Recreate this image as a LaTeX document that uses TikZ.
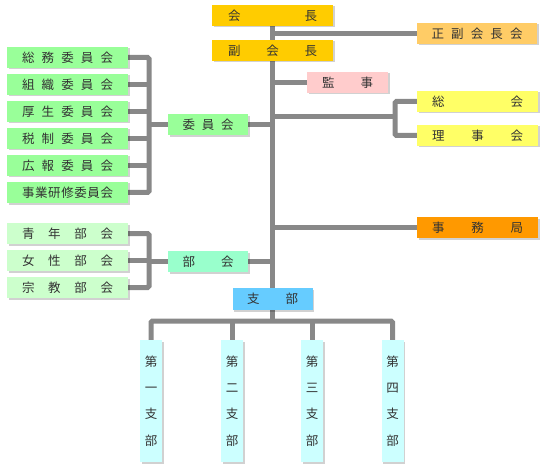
\documentclass[tikz,border=0pt]{standalone}
\usepackage{fontspec}
\newfontfamily\jp{Noto Sans CJK JP}
\usetikzlibrary{shadows,backgrounds}
\definecolor{cGold}{HTML}{FFCC00}
\definecolor{cLtOrange}{HTML}{FFCC66}
\definecolor{cPink}{HTML}{FFCCCC}
\definecolor{cYellow}{HTML}{FFFF66}
\definecolor{cOrange}{HTML}{FF9900}
\definecolor{cGreen}{HTML}{99FF99}
\definecolor{cMint}{HTML}{99FFCC}
\definecolor{cPale}{HTML}{CCFFCC}
\definecolor{cBlue}{HTML}{66CCFF}
\definecolor{cCyan}{HTML}{CCFFFF}
\definecolor{cLine}{HTML}{888888}
\definecolor{cText}{HTML}{333333}
\newcommand{\spr}[2]{\makebox[#1pt]{#2}}
\tikzset{
  box/.style={inner sep=0pt, minimum height=21pt, text=cText,
    font=\jp\fontsize{12.5}{14}\selectfont,
    drop shadow={shadow xshift=1.5pt,shadow yshift=-1.5pt,fill=black,opacity=0.18}},
  vbox/.style={box, minimum width=22pt, minimum height=122pt, align=center,
    font=\jp\fontsize{12.5}{26.3}\selectfont},
  conn/.style={draw=cLine, line width=5pt, rounded corners=1.5pt}
}
\begin{document}
\begin{tikzpicture}[x=1pt,y=-1pt]
\useasboundingbox (0,0) rectangle (545,470);
% top
\node[box,fill=cGold,minimum width=121pt] (kaicho) at (272.5,15.5) {\spr{89}{会\hfill 長}};
\node[box,fill=cGold,minimum width=121pt] (fuku) at (272.5,50.5) {\spr{89}{副\hfill 会\hfill 長}};
\node[box,fill=cLtOrange,minimum width=120pt] (seifuku) at (477,33.5) {\spr{91}{正\hfill 副\hfill 会\hfill 長\hfill 会}};
\node[box,fill=cPink,minimum width=81pt] (kanji) at (347.5,82.5) {\spr{51}{監\hfill 事}};
\node[box,fill=cYellow,minimum width=121pt] (sokai) at (477.5,101.5) {\spr{91}{総\hfill 会}};
\node[box,fill=cYellow,minimum width=121pt] (riji) at (477.5,135.5) {\spr{91}{理\hfill 事\hfill 会}};
\node[box,fill=cOrange,minimum width=121pt] (jimu) at (477.5,227.5) {\spr{91}{事\hfill 務\hfill 局}};
% committees
\node[box,fill=cGreen,minimum width=121pt] (c1) at (67.5,57.5) {\spr{91}{総\hfill 務\hfill 委\hfill 員\hfill 会}};
\node[box,fill=cGreen,minimum width=121pt] (c2) at (67.5,84.5) {\spr{91}{組\hfill 織\hfill 委\hfill 員\hfill 会}};
\node[box,fill=cGreen,minimum width=121pt] (c3) at (67.5,111.5) {\spr{91}{厚\hfill 生\hfill 委\hfill 員\hfill 会}};
\node[box,fill=cGreen,minimum width=121pt] (c4) at (67.5,138.5) {\spr{91}{税\hfill 制\hfill 委\hfill 員\hfill 会}};
\node[box,fill=cGreen,minimum width=121pt] (c5) at (67.5,165.5) {\spr{91}{広\hfill 報\hfill 委\hfill 員\hfill 会}};
\node[box,fill=cGreen,minimum width=121pt] (c6) at (67.5,192.5) {\spr{91}{事\hfill 業\hfill 研\hfill 修\hfill 委\hfill 員\hfill 会}};
\node[box,fill=cGreen,minimum width=80pt] (iin) at (208,125) {\spr{51}{委\hfill 員\hfill 会}};
% bukai
\node[box,fill=cPale,minimum width=121pt] (b1) at (67.5,233.5) {\spr{91}{青\hfill 年\hfill 部\hfill 会}};
\node[box,fill=cPale,minimum width=121pt] (b2) at (67.5,260.5) {\spr{91}{女\hfill 性\hfill 部\hfill 会}};
\node[box,fill=cPale,minimum width=121pt] (b3) at (67.5,287.5) {\spr{91}{宗\hfill 教\hfill 部\hfill 会}};
\node[box,fill=cMint,minimum width=80pt] (bukai) at (208,261.5) {\spr{51}{部\hfill 会}};
% shibu
\node[box,fill=cBlue,minimum width=80pt,minimum height=22pt] (shibu) at (272.5,299) {\spr{51}{支\hfill 部}};
\node[vbox,fill=cCyan] (s1) at (151,401) {第\\一\\支\\部};
\node[vbox,fill=cCyan] (s2) at (232,401) {第\\二\\支\\部};
\node[vbox,fill=cCyan] (s3) at (312,401) {第\\三\\支\\部};
\node[vbox,fill=cCyan] (s4) at (392.5,401) {第\\四\\支\\部};
\coordinate (jb) at (395,117);
\coordinate (ib) at (149,125);
\coordinate (bb) at (149,261.5);
\coordinate (sb) at (272.5,321);
\begin{scope}[on background layer]
\fill[white] (0,0) rectangle (545,470);
\draw[conn] (kaicho.south) -- (shibu.north);
\draw[conn] (seifuku.west) -- (seifuku.west -| kaicho.south);
\draw[conn] (kanji.west) -- (kanji.west -| kaicho.south);
\draw[conn] (jb) -- (jb -| kaicho.south);
\draw[conn] (sokai.west) -| (jb) |- (riji.west);
\draw[conn] (jimu.west) -- (jimu.west -| kaicho.south);
\draw[conn] (iin.east) -- (iin.east -| kaicho.south);
\draw[conn] (ib) -- (iin.west);
\draw[conn] (c1.east) -| (ib) |- (c6.east);
\foreach \n in {c2,c3,c4,c5} \draw[conn] (\n.east) -- (\n.east -| ib);
\draw[conn] (bukai.east) -- (bukai.east -| kaicho.south);
\draw[conn] (bb) -- (bukai.west);
\draw[conn] (b1.east) -| (bb) |- (b3.east);
\draw[conn] (b2.east) -- (b2.east -| bb);
\draw[conn] (shibu.south) -- (sb);
\draw[conn] (s1.north) |- (sb) -| (s4.north);
\draw[conn] (s2.north) -- (s2.north |- sb);
\draw[conn] (s3.north) -- (s3.north |- sb);
\end{scope}
\end{tikzpicture}
\end{document}
